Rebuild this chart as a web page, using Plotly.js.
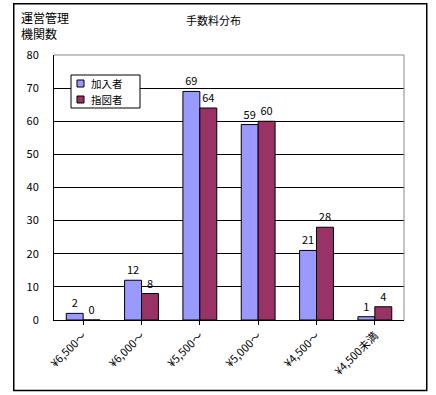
<!DOCTYPE html>
<html><head><meta charset="utf-8">
<script src="https://cdn.plot.ly/plotly-3.0.1.min.js"></script>
<style>body{margin:0;background:#fff}#c{width:436px;height:395px}</style>
</head><body><div id="c"></div>
<script>
const categories = ['¥6,500～', '¥6,000～', '¥5,500～', '¥5,000～', '¥4,500～', '¥4,500未満'];
const kanyusha = [2, 12, 69, 59, 21, 1];
const shizusha = [0, 8, 64, 60, 28, 4];
const yTicks = [0, 10, 20, 30, 40, 50, 60, 70, 80];
const seriesNames = ['加入者', '指図者'];
const seriesColors = ['#9999FF', '#993366'];

const fam = '"Noto Sans CJK JP", "DejaVu Sans", sans-serif';
const font = {family: fam, size: 11, color: '#000'};
const traces = [
  {type: 'bar', name: seriesNames[0], x: categories, y: kanyusha, text: kanyusha.map(String),
   textposition: 'outside', cliponaxis: false, textfont: font,
   marker: {color: seriesColors[0], line: {color: '#000', width: 1}}},
  {type: 'bar', name: seriesNames[1], x: categories, y: shizusha, text: shizusha.map(String),
   textposition: 'outside', cliponaxis: false, textfont: font,
   marker: {color: seriesColors[1], line: {color: '#000', width: 1}}}
];
// custom legend box (paper coords)
const px = v => (v - 54) / 350, py = v => (320 - v) / 265;
const shapes = [
  {type: 'rect', xref: 'paper', yref: 'paper', x0: -0.115, x1: 1.065, y0: -0.266, y1: 1.193,
   line: {color: '#000', width: 1.5}},
  {type: 'line', xref: 'paper', yref: 'paper', x0: 0, x1: 1, y0: 1, y1: 1, line: {color: '#888', width: 1}},
  {type: 'line', xref: 'paper', yref: 'paper', x0: 1, x1: 1, y0: 0, y1: 1, line: {color: '#888', width: 1}},
  {type: 'rect', xref: 'paper', yref: 'paper', x0: px(71), x1: px(140), y0: py(108), y1: py(75),
   fillcolor: '#fff', line: {color: '#000', width: 1}, layer: 'above'}
];
const annotations = [
  {text: '運営管理<br>機関数', xref: 'paper', yref: 'paper', x: -0.1, y: 1.18, xanchor: 'left', yanchor: 'top',
   showarrow: false, align: 'left', font: {family: fam, size: 12, color: '#000'}},
  {text: '手数料分布', xref: 'paper', yref: 'paper', x: 0.37, y: 1.17, xanchor: 'left', yanchor: 'top',
   showarrow: false, font: {family: fam, size: 11, color: '#000'}}
];
seriesNames.forEach((n, i) => {
  const cy = 83.5 + i * 16;
  shapes.push({type: 'rect', xref: 'paper', yref: 'paper', x0: px(77), x1: px(84), y0: py(cy + 3.5), y1: py(cy - 3.5),
    fillcolor: seriesColors[i], line: {color: '#000', width: 1}, layer: 'above'});
  annotations.push({text: n, xref: 'paper', yref: 'paper', x: px(90), y: py(cy), xanchor: 'left', yanchor: 'middle',
    showarrow: false, borderpad: 0, font: {family: fam, size: 10.5, color: '#000'}});
});
const layout = {
  width: 436, height: 395,
  margin: {l: 54, r: 32, t: 55, b: 75},
  paper_bgcolor: '#fff', plot_bgcolor: '#fff',
  font: font,
  showlegend: false,
  bargap: 0.42, bargroupgap: 0,
  xaxis: {type: 'category', tickangle: -45, showline: true, linecolor: '#000', linewidth: 1,
          ticks: 'outside', ticklen: 4, tickcolor: '#000', showgrid: false, mirror: false,
          tickfont: {family: fam, size: 11, color: '#000'}},
  yaxis: {range: [0, 80], tickvals: yTicks, showline: true, linecolor: '#000', linewidth: 1,
          showgrid: true, gridcolor: '#000', gridwidth: 1, zeroline: false,
          ticks: '', ticklabelstandoff: 12,
          tickfont: {family: fam, size: 11, color: '#000'}},
  shapes: shapes,
  annotations: annotations
};
Plotly.newPlot('c', traces, layout, {staticPlot: true});
</script></body></html>
